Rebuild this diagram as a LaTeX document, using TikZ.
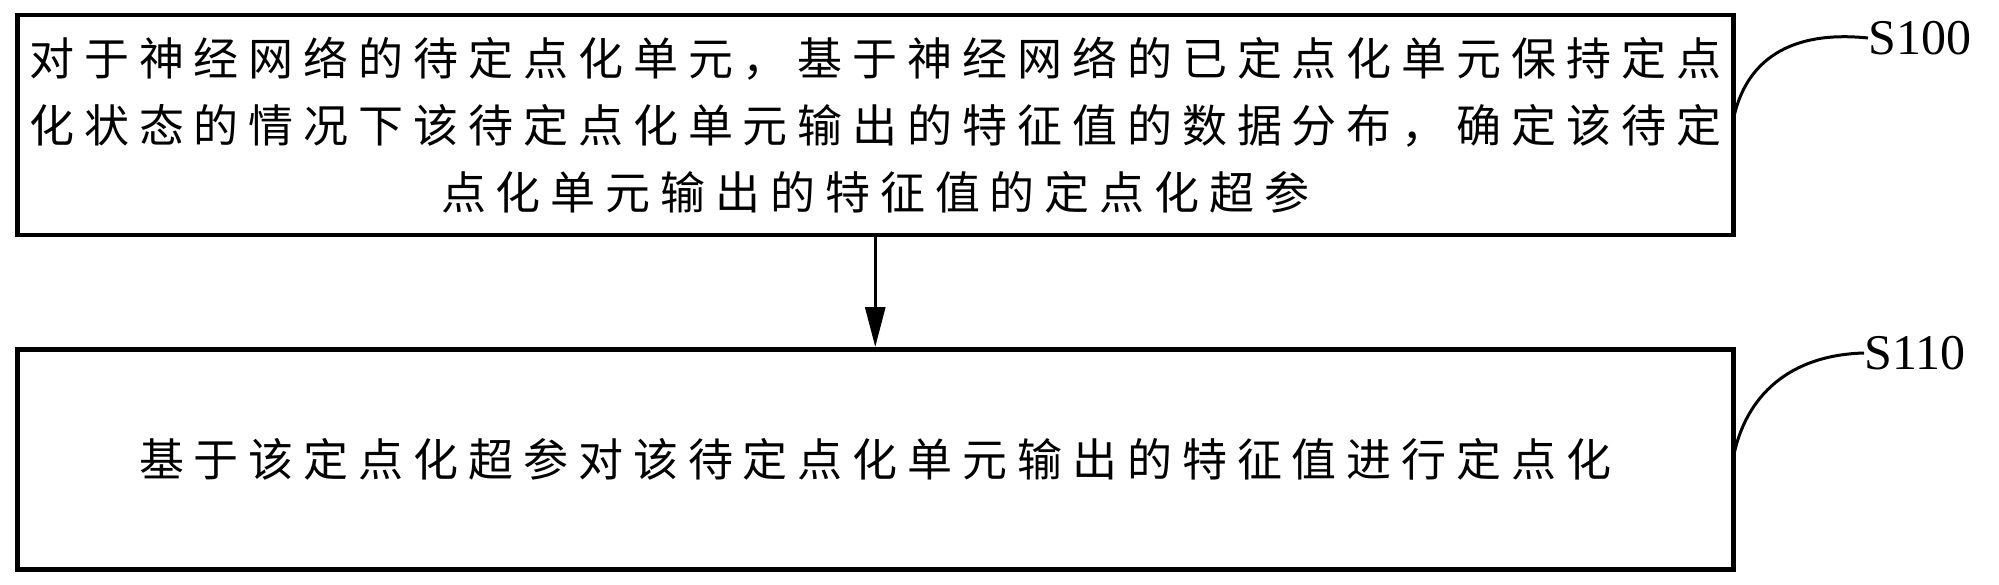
\documentclass[tikz,border=0pt]{standalone}
\usepackage{fontspec}
\setmainfont{Liberation Serif}
\newfontfamily\cjk[LetterSpace=22]{Noto Sans CJK SC}
\usetikzlibrary{arrows.meta}
\begin{document}
\begin{tikzpicture}[x=1pt,y=-1pt,
  stepbox/.style={draw,line width=4.5pt,minimum width=1716pt,minimum height=220pt,inner sep=0pt,anchor=north west,align=center,font=\cjk\fontsize{45}{67}\selectfont},
  lbl/.style={font=\fontsize{50}{52}\selectfont,anchor=west,inner sep=0pt}]
\useasboundingbox (0,0) rectangle (1999,585);
\node[stepbox] (a) at (15,13) {对于神经网络的待定点化单元，基于神经网络的已定点化单元保持定点\\化状态的情况下该待定点化单元输出的特征值的数据分布，确定该待定\\点化单元输出的特征值的定点化超参};
\node[stepbox] (b) at (15,347) {基于该定点化超参对该待定点化单元输出的特征值进行定点化};
\draw[line width=3pt,-{Triangle[length=40pt,width=20pt]}] (a.south) -- (b.north);
\node[lbl] (s1) at (1868,38) {S100};
\node[lbl] (s2) at (1864,353) {S110};
\coordinate (c1) at (1733,121);
\coordinate (c2) at (1733,459);
\draw[line width=3pt] (c1) .. controls (1745,60) and (1790,30) .. (s1.west);
\draw[line width=3pt] (c2) .. controls (1745,395) and (1790,355) .. (s2.west);
\end{tikzpicture}
\end{document}
